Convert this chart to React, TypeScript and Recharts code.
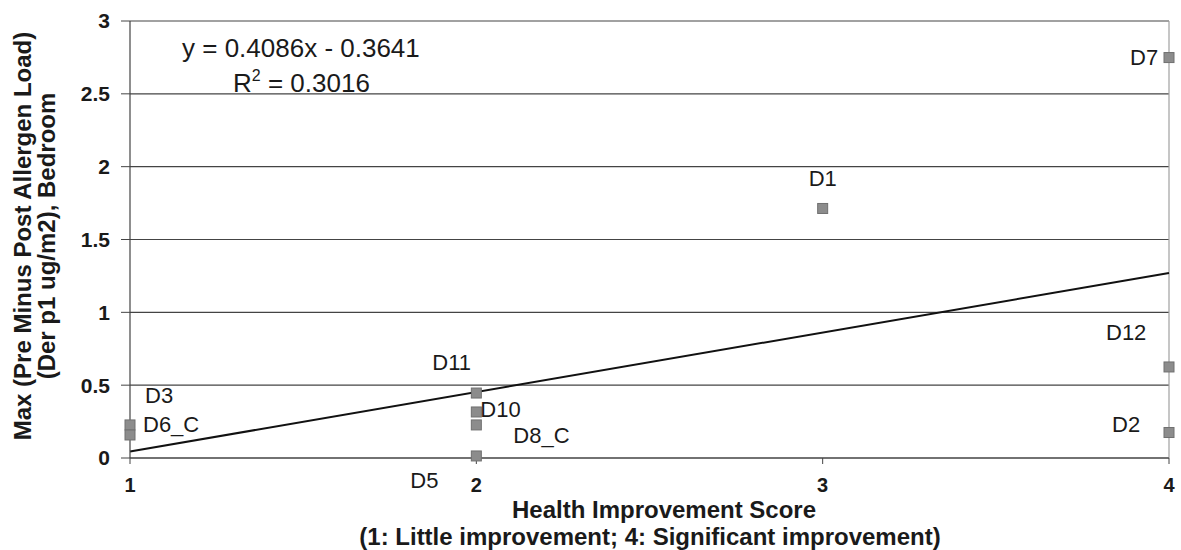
import {
  CartesianGrid,
  Label,
  ReferenceLine,
  Scatter,
  ScatterChart,
  XAxis,
  YAxis,
} from 'recharts'

// Health score (x) vs max allergen load reduction (y), one point per dwelling
const names = ['D3', 'D6_C', 'D11', 'D10', 'D8_C', 'D5', 'D1', 'D7', 'D12', 'D2']
const scores = [1, 1, 2, 2, 2, 2, 3, 4, 4, 4]
const loads = [0.227, 0.158, 0.446, 0.316, 0.227, 0.014, 1.713, 2.749, 0.625, 0.175]

const xTicks = [1, 2, 3, 4]
const yTicks = [0, 0.5, 1, 1.5, 2, 2.5, 3]

// linear trendline from the fitted equation
const slope = 0.4086
const intercept = -0.3641
const r2 = 0.3016

const points = names.map((name, i) => ({ name, x: scores[i], y: loads[i] }))
const trend = [
  { x: 1, y: slope * 1 + intercept },
  { x: 4, y: slope * 4 + intercept },
]

// where each point label sits relative to its marker (px)
const labelOffset: Record<string, [number, number]> = {
  D3: [15, -29],
  D6_C: [13, -10],
  D11: [-44, -31],
  D10: [4, -2],
  D8_C: [37, 11],
  D5: [-66, 25],
  D1: [-14, -30],
  D7: [-39, 0],
  D12: [-63, -34],
  D2: [-57, -8],
}

const FONT = '"Liberation Sans", Arial, sans-serif'

function PointShape(props: any) {
  const { cx, cy, payload } = props
  const [dx, dy] = labelOffset[payload.name] ?? [8, 0]
  return (
    <g>
      <rect x={cx - 5} y={cy - 5} width={10} height={10} fill="#8c8c8c" stroke="#707070" strokeWidth={1} />
      <text
        x={cx + dx}
        y={cy + dy}
        fontSize={22}
        fill="#1a1a1a"
        fontFamily={FONT}
        dominantBaseline="central"
      >
        {payload.name}
      </text>
    </g>
  )
}

function YTitle() {
  return (
    <g fontFamily={FONT} fontWeight="bold" fontSize={24} fill="#1a1a1a">
      <text transform="translate(31, 236) rotate(-90)" textAnchor="middle">
        Max (Pre Minus Post Allergen Load)
      </text>
      <text transform="translate(55, 236) rotate(-90)" textAnchor="middle">
        (Der p1 ug/m2), Bedroom
      </text>
      <text x={182} y={57} fontWeight="normal" fontSize={26}>
        {`y = ${slope}x - ${Math.abs(intercept)}`}
      </text>
      <text x={233} y={92} fontWeight="normal" fontSize={26}>
        R<tspan dy={-11} fontSize={16}>2</tspan>
        <tspan dy={11}>{` = ${r2}`}</tspan>
      </text>
    </g>
  )
}

function XTitle() {
  return (
    <g fontFamily={FONT} fontWeight="bold" fontSize={24} fill="#1a1a1a" textAnchor="middle">
      <text x={664} y={518}>Health Improvement Score</text>
      <text x={650} y={545}>(1: Little improvement; 4: Significant improvement)</text>
    </g>
  )
}

export default function App() {
  return (
    <div style={{ position: 'absolute', left: 0, top: 0, width: 1181, height: 550, background: '#fff' }}>
      <ScatterChart width={1181} height={550} margin={{ top: 21, right: 12, bottom: 0, left: 0 }}>
        <CartesianGrid horizontal vertical={false} stroke="#444" strokeWidth={1.2} />
        <XAxis
          type="number"
          dataKey="x"
          domain={[1, 4]}
          ticks={xTicks}
          height={92}
          tickSize={6}
          tickMargin={14}
          axisLine={{ stroke: '#444', strokeWidth: 1.2 }}
          tickLine={{ stroke: '#444' }}
          tick={{ fontSize: 20, fontWeight: 'bold', fill: '#1a1a1a', fontFamily: FONT }}
        >
          <Label content={<XTitle />} />
        </XAxis>
        <YAxis
          type="number"
          dataKey="y"
          domain={[0, 3]}
          ticks={yTicks}
          width={130}
          tickSize={9}
          tickMargin={11}
          axisLine={{ stroke: '#444', strokeWidth: 1.2 }}
          tickLine={{ stroke: '#444' }}
          tick={{ fontSize: 21, fontWeight: 'bold', fill: '#1a1a1a', fontFamily: FONT }}
        >
          <Label content={<YTitle />} />
        </YAxis>
        <ReferenceLine x={4} stroke="#a0a0a0" strokeWidth={1.2} />
        <Scatter data={points} shape={<PointShape />} isAnimationActive={false} />
        <ReferenceLine
          segment={trend}
          stroke="#111"
          strokeWidth={2}
          ifOverflow="visible"
        />
      </ScatterChart>
    </div>
  )
}
